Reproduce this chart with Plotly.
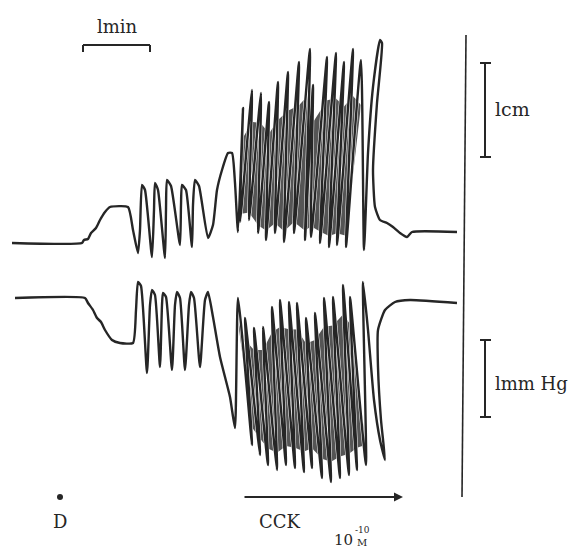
import plotly.graph_objects as go

# ---------------- data (time ~ px units, deflection ~ px units, y downward) -------------
# Upper trace (length), before the dense CCK burst
top_pre_x = [12, 82, 84, 88, 91, 96, 100, 105, 110, 128, 133, 138, 140, 142, 145, 152, 154, 155, 158,
             165, 166, 167, 171, 180, 181, 182, 186, 192, 193, 195, 199, 208, 213, 217, 222, 228, 232, 235]
top_pre_y = [243, 243, 240, 239, 233, 228, 220, 212, 207, 207, 230, 253, 230, 185, 190, 257, 210, 183, 190,
             258, 210, 180, 186, 245, 205, 185, 190, 247, 205, 180, 186, 238, 225, 190, 170, 153, 153, 183]
# dense burst: trough then peak
top_tr_x = [238, 240, 249, 258, 266, 275, 284, 294, 305, 311, 320, 329, 337, 346]
top_tr_y = [232, 222, 220, 233, 240, 233, 242, 233, 240, 237, 243, 247, 245, 247]
top_pk_x = [243, 252, 261, 269, 278, 288, 299, 310, 313, 327, 336, 344, 353, 361]
top_pk_y = [108, 90, 93, 102, 82, 72, 62, 49, 85, 57, 53, 62, 49, 60]
top_post_x = [364, 368, 373, 380, 382, 377, 373, 375, 380, 387, 393, 400, 407, 412, 457]
top_post_y = [250, 153, 87, 40, 43, 103, 170, 207, 220, 223, 227, 233, 237, 232, 232]

# Lower trace (pressure)
bot_pre_x = [15, 85, 88, 93, 97, 101, 105, 112, 120, 133, 136, 138, 141, 147, 150, 152, 155, 160, 162,
             163, 166, 172, 175, 177, 180, 185, 189, 191, 194, 200, 205, 208, 213, 220, 230, 235]
bot_pre_y = [298, 298, 303, 310, 318, 322, 330, 340, 343, 343, 310, 282, 286, 373, 305, 290, 295, 367, 305,
             293, 297, 370, 305, 292, 298, 370, 305, 292, 298, 367, 300, 292, 317, 357, 397, 428]
# dense burst: peak then trough
bot_pk_x = [238, 245, 254, 263, 272, 280, 289, 297, 306, 315, 324, 333, 343, 350]
bot_pk_y = [298, 318, 328, 327, 307, 300, 302, 303, 318, 313, 298, 297, 285, 297]
bot_tr_x = [252, 260, 268, 277, 286, 295, 304, 312, 322, 331, 340, 349, 357, 366]
bot_tr_y = [445, 455, 465, 470, 465, 468, 472, 468, 478, 482, 478, 475, 470, 465]
bot_post_x = [363, 368, 374, 380, 385, 381, 378, 378, 385, 395, 410, 457]
bot_post_y = [282, 330, 400, 440, 460, 420, 367, 330, 310, 302, 300, 303]

# labels
label_time = "lmin"
label_len = "lcm"
label_pres = "lmm Hg"
label_d = "D"
label_cck = "CCK"

# ---------------- build -------------
def interleave(ax, ay, bx, by):
    xs, ys = [], []
    for a1, a2, b1, b2 in zip(ax, ay, bx, by):
        xs += [a1, b1]
        ys += [a2, b2]
    return xs, ys

tdx, tdy = interleave(top_tr_x, top_tr_y, top_pk_x, top_pk_y)
bdx, bdy = interleave(bot_pk_x, bot_pk_y, bot_tr_x, bot_tr_y)
top_x = top_pre_x + tdx + top_post_x
top_y = top_pre_y + tdy + top_post_y
bot_x = bot_pre_x + bdx + bot_post_x
bot_y = bot_pre_y + bdy + bot_post_y

INK = "#262626"
GRAY = "#555555"

fig = go.Figure()

# smeared gray band inside the dense bursts, derived from the burst envelopes
def band(upper_x, upper_y, lower_x, lower_y, fu, fl):
    ux = list(upper_x)
    uy = [u + fu * (l - u) for u, l in zip(upper_y, lower_y)]
    lx = list(lower_x)[::-1]
    ly = [l - fl * (l - u) for u, l in zip(upper_y, lower_y)][::-1]
    return ux + lx + [ux[0]], uy + ly + [uy[0]]

gx, gy = band(top_pk_x, top_pk_y, top_tr_x, top_tr_y, 0.24, 0.06)
fig.add_trace(go.Scatter(x=gx, y=gy, mode="lines", fill="toself", fillcolor=GRAY,
                         line=dict(width=0), hoverinfo="skip", showlegend=False))
gx, gy = band(bot_pk_x, bot_pk_y, bot_tr_x, bot_tr_y, 0.16, 0.12)
fig.add_trace(go.Scatter(x=gx, y=gy, mode="lines", fill="toself", fillcolor=GRAY,
                         line=dict(width=0), hoverinfo="skip", showlegend=False))

for xs, ys in [(top_x, top_y), (bot_x, bot_y)]:
    fig.add_trace(go.Scatter(x=xs, y=ys, mode="lines",
                             line=dict(color="white", width=3.4, shape="spline", smoothing=0.5),
                             hoverinfo="skip", showlegend=False))
    fig.add_trace(go.Scatter(x=xs, y=ys, mode="lines",
                             line=dict(color=INK, width=2.4, shape="spline", smoothing=0.5),
                             hoverinfo="skip", showlegend=False))

# marker for D
fig.add_trace(go.Scatter(x=[60], y=[497], mode="markers",
                         marker=dict(symbol="circle", size=6, color=INK),
                         hoverinfo="skip", showlegend=False))

line_style = dict(color=INK, width=2)
shapes = [
    # 1 min bar
    dict(type="line", x0=83, y0=45, x1=150, y1=45, line=line_style),
    dict(type="line", x0=83, y0=45, x1=83, y1=52, line=line_style),
    dict(type="line", x0=150, y0=45, x1=150, y1=52, line=line_style),
    # right vertical reference line
    dict(type="line", x0=466, y0=35, x1=462, y1=497, line=dict(color=INK, width=1.6)),
    # 1 cm bar
    dict(type="line", x0=485, y0=63, x1=485, y1=157, line=line_style),
    dict(type="line", x0=480, y0=63, x1=491, y1=63, line=line_style),
    dict(type="line", x0=480, y0=157, x1=491, y1=157, line=line_style),
    # 1 mm Hg bar
    dict(type="line", x0=485, y0=340, x1=485, y1=417, line=line_style),
    dict(type="line", x0=480, y0=340, x1=491, y1=340, line=line_style),
    dict(type="line", x0=480, y0=417, x1=491, y1=417, line=line_style),
]

FONT = "DejaVu Serif"
def txt(x, y, s, size, xa="center", ya="middle"):
    return dict(x=x, y=y, xref="x", yref="y", text=s, showarrow=False,
                xanchor=xa, yanchor=ya, font=dict(family=FONT, size=size, color=INK))

annotations = [
    txt(117, 26, label_time, 18),
    txt(493, 109, label_len, 19, xa="left"),
    txt(493, 383, label_pres, 18, xa="left"),
    txt(60, 521, label_d, 18),
    txt(280, 521, label_cck, 18),
    txt(343, 540, "10", 15),
    txt(362, 530, "-10", 9),
    txt(362, 542, "M", 10),
    dict(x=403, y=497, ax=243, ay=497, xref="x", yref="y", axref="x", ayref="y",
         text="", showarrow=True, arrowhead=2, arrowsize=1, arrowwidth=1.8, arrowcolor=INK),
]

fig.update_layout(
    width=571, height=548,
    margin=dict(l=0, r=0, t=0, b=0),
    paper_bgcolor="white", plot_bgcolor="white",
    xaxis=dict(range=[0, 571], visible=False, fixedrange=True),
    yaxis=dict(range=[548, 0], visible=False, fixedrange=True),
    shapes=shapes, annotations=annotations,
)

fig.write_html("out.html", config={"displayModeBar": False},
               post_script="document.body.style.margin='0';document.body.style.padding='0';"
                           "document.body.style.overflow='hidden';")
